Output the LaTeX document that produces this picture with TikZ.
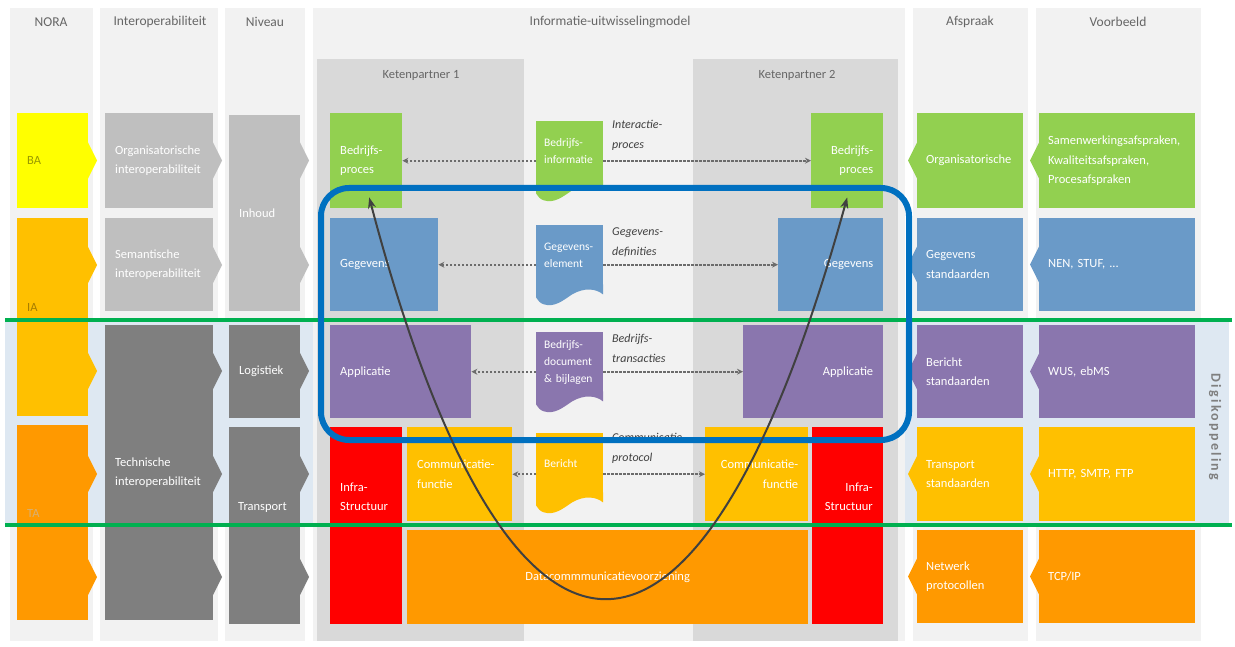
\documentclass[tikz,border=0pt]{standalone}
\usepackage{fontspec}
\setmainfont{Carlito}
\usetikzlibrary{arrows.meta,positioning}

\definecolor{kolom}{HTML}{F2F2F2}
\definecolor{keten}{HTML}{D9D9D9}
\definecolor{band}{HTML}{DEE8F2}
\definecolor{geelBA}{HTML}{FFFF00}
\definecolor{oranjeIA}{HTML}{FFC000}
\definecolor{oranjeTA}{HTML}{FF9900}
\definecolor{lichtgrijs}{HTML}{BFBFBF}
\definecolor{donkergrijs}{HTML}{7F7F7F}
\definecolor{groen}{HTML}{92D050}
\definecolor{blauw}{HTML}{6A9AC8}
\definecolor{paars}{HTML}{8A76AE}
\definecolor{rood}{HTML}{FF0000}
\definecolor{lijngroen}{HTML}{00B050}
\definecolor{kader}{HTML}{0070C0}
\definecolor{kopgrijs}{HTML}{666666}
\definecolor{pijlgrijs}{HTML}{404040}

\begin{document}
\begin{tikzpicture}[x=1pt,y=-1pt,line join=round,
  kop/.style={text=kopgrijs,font=\fontsize{13.5}{16}\selectfont},
  ketenkop/.style={text=kopgrijs,font=\fontsize{12.5}{15}\selectfont},
  blok/.style={rectangle,anchor=north west,inner xsep=10pt,inner ysep=0pt,text=white,align=left,font=\fontsize{12.5}{19.5}\selectfont},
  etiket/.style={anchor=west,inner sep=0pt,text=white,align=left,font=\fontsize{12.5}{19.5}\selectfont},
  doc/.style={rectangle,anchor=north west,minimum width=67pt,minimum height=60pt,inner xsep=8pt,inner ysep=0pt,text width=51pt,text=white,align=left,font=\fontsize{11.5}{17}\selectfont},
  cursief/.style={anchor=west,inner sep=0pt,text=pijlgrijs,align=left,font=\fontsize{12}{20}\selectfont\itshape},
  stippel/.style={draw=donkergrijs!85!black,line width=2pt,dash pattern=on 2.2pt off 1.8pt,-{Stealth[length=6pt,width=6pt]}},
  pijl/.style={draw=pijlgrijs,line width=2pt,{Stealth[length=11pt,width=8pt]}-{Stealth[length=11pt,width=8pt]}}]

  % achtergrond
  \fill[white] (0,0) rectangle (1235,647);
  \useasboundingbox (0,0) rectangle (1235,647);
  \foreach \a/\b in {10/93,100/218,225/305,913/1028,1036/1201}
    \fill[kolom] (\a,8) rectangle (\b,641);
  \fill[band] (5,320) rectangle (1229,525);
  \fill[kolom] (313,8) rectangle (905,641);
  \fill[keten] (317,59) rectangle (524,641);
  \fill[keten] (693,59) rectangle (898,641);

  % koppen
  \node[kop] (hNORA) at (51,22) {NORA};
  \node[kop] (hInterop) at (160,22) {Interoperabiliteit};
  \node[kop] (hNiveau) at (265,22) {Niveau};
  \node[kop] (hModel) at (610,22) {Informatie-uitwisselingmodel};
  \node[kop] (hAfspraak) at (970,22) {Afspraak};
  \node[kop] (hVoorbeeld) at (1118,22) {Voorbeeld};
  \node[ketenkop] (hKP1) at (421,75) {Ketenpartner 1};
  \node[ketenkop] (hKP2) at (797,75) {Ketenpartner 2};

  % uitsteeksels naar rechts en naar links
  \foreach \x/\y/\c in {88/160.5/geelBA,88/265/oranjeIA,88/371/oranjeIA,88/474/oranjeTA,88/577/oranjeTA,
      213/160.5/lichtgrijs,213/265/lichtgrijs,213/371/donkergrijs,213/474/donkergrijs,213/577/donkergrijs,
      300/160.5/lichtgrijs,300/265/lichtgrijs,300/371/donkergrijs,300/474/donkergrijs,300/577/donkergrijs}
    \fill[\c] (\x-1,\y-20) -- (\x+9,\y) -- (\x-1,\y+20) -- cycle;
  \foreach \x/\y/\c in {917/160.5/groen,917/264.5/blauw,917/371.5/paars,917/474/oranjeIA,917/576.5/oranjeTA,
      1039/160.5/groen,1039/264.5/blauw,1039/371.5/paars,1039/474/oranjeIA,1039/576.5/oranjeTA}
    \fill[\c] (\x+1,\y-20) -- (\x-9,\y) -- (\x+1,\y+20) -- cycle;

  % NORA
  \node[blok,fill=geelBA,minimum width=71pt,minimum height=95pt,text width=51pt,text=black!40!geelBA] (BA) at (17,113) {BA};
  \node[blok,fill=oranjeIA,minimum width=71pt,minimum height=198pt] (IA) at (17,218) {};
  \node[blok,fill=oranjeTA,minimum width=71pt,minimum height=195pt] (TA) at (17,425) {};
  \node[etiket,text=black!35!oranjeIA] (lIA) at (27,307) {IA};
  \node[etiket,text=lichtgrijs!60!oranjeTA] (lTA) at (27,513) {TA};

  % Interoperabiliteit
  \node[blok,fill=lichtgrijs,minimum width=108pt,minimum height=95pt,text width=88pt] (org) at (105,113) {Organisatorische\\interoperabiliteit};
  \node[blok,fill=lichtgrijs,minimum width=108pt,minimum height=93pt,text width=88pt] (sem) at (105,218) {Semantische\\interoperabiliteit};
  \node[blok,fill=donkergrijs,minimum width=108pt,minimum height=295pt,text width=88pt] (tech) at (105,325) {Technische\\interoperabiliteit};

  % Niveau
  \node[blok,fill=lichtgrijs,minimum width=71pt,minimum height=196pt,text width=51pt] (inhoud) at (229,115) {Inhoud};
  \node[blok,fill=donkergrijs,minimum width=71pt,minimum height=93pt,text width=51pt] (logistiek) at (229,325) {Logistiek};
  \node[blok,fill=donkergrijs,minimum width=71pt,minimum height=197pt] (transport) at (229,427) {};
  \node[etiket] (lTransport) at (238,507) {Transport};

  % Ketenpartner 1
  \node[blok,fill=groen,minimum width=72pt,minimum height=95pt,text width=52pt] (bp1) at (330,113) {Bedrijfs-\\proces};
  \node[blok,fill=blauw,minimum width=108pt,minimum height=93pt,text width=88pt] (geg1) at (330,218) {Gegevens};
  \node[blok,fill=paars,minimum width=141pt,minimum height=93pt,text width=121pt] (app1) at (330,325) {Applicatie};
  \node[blok,fill=rood,minimum width=72pt,minimum height=197pt] (infra1) at (330,427) {};
  \node[etiket] (lInfra1) at (340,497) {Infra-\\Structuur};
  \node[blok,fill=oranjeIA,minimum width=105pt,minimum height=94pt,text width=85pt] (comf1) at (407,427) {Communicatie-\\functie};
  \node[blok,fill=oranjeTA,minimum width=401pt,minimum height=94pt,text width=381pt,align=center] (data) at (407,530) {Datacommmunicatievoorziening};

  % Ketenpartner 2
  \node[blok,fill=groen,minimum width=72pt,minimum height=95pt,text width=52pt,align=right] (bp2) at (811,113) {Bedrijfs-\\proces};
  \node[blok,fill=blauw,minimum width=105pt,minimum height=93pt,text width=85pt,align=right] (geg2) at (778,218) {Gegevens};
  \node[blok,fill=paars,minimum width=140pt,minimum height=93pt,text width=120pt,align=right] (app2) at (743,325) {Applicatie};
  \node[blok,fill=oranjeIA,minimum width=103pt,minimum height=94pt,text width=83pt,align=right] (comf2) at (705,427) {Communicatie-\\functie};
  \node[blok,fill=rood,minimum width=71pt,minimum height=197pt] (infra2) at (812,427) {};
  \node[etiket,anchor=east,align=right] (lInfra2) at (873,497) {Infra-\\Structuur};

  % documenten in het midden
  \node[doc,fill=groen] (binfo) at (536,121) {Bedrijfs-\\informatie};
  \node[doc,fill=blauw] (gelem) at (536,225) {Gegevens-\\element};
  \node[doc,fill=paars] (bdoc) at (536,332) {Bedrijfs-\\document\\\& bijlagen};
  \node[doc,fill=oranjeIA] (bericht) at (536,433) {Bericht};
  \foreach \d/\c in {binfo/groen,gelem/blauw,bdoc/paars,bericht/oranjeIA}
    \fill[\c,shift={(\d.south west)}] (0,-1) -- (67,-1) -- (67,9)
      .. controls (60,3) and (48,2) .. (36,9)
      .. controls (26,16) and (18,22) .. (8,19)
      .. controls (4,18) and (2,15) .. (0,12) -- cycle;

  \node[cursief] (lInteractie) at (612,135) {Interactie-\\proces};
  \node[cursief] (lDefinities) at (612,242) {Gegevens-\\definities};
  \node[cursief] (lTransacties) at (612,348) {Bedrijfs-\\transacties};
  \node[cursief] (lProtocol) at (612,448) {Communicatie-\\protocol};

  % stippelpijlen
  \draw[stippel] (binfo.west |- bp1.east) -- (bp1.east);
  \draw[stippel] (binfo.east |- bp2.west) -- (bp2.west);
  \draw[stippel] (gelem.west |- geg1.east) -- (geg1.east);
  \draw[stippel] (gelem.east |- geg2.west) -- (geg2.west);
  \draw[stippel] (bdoc.west |- app1.east) -- (app1.east);
  \draw[stippel] (bdoc.east |- app2.west) -- (app2.west);
  \draw[stippel] (bericht.west |- comf1.east) -- (comf1.east);
  \draw[stippel] (bericht.east |- comf2.west) -- (comf2.west);

  % Afspraak
  \node[blok,inner xsep=9pt,fill=groen,minimum width=106pt,minimum height=95pt,text width=88pt] (aOrg) at (917,113) {Organisatorische};
  \node[blok,inner xsep=9pt,fill=blauw,minimum width=106pt,minimum height=93pt,text width=88pt] (aGeg) at (917,218) {Gegevens\\standaarden};
  \node[blok,inner xsep=9pt,fill=paars,minimum width=106pt,minimum height=93pt,text width=88pt] (aBer) at (917,325) {Bericht\\standaarden};
  \node[blok,inner xsep=9pt,fill=oranjeIA,minimum width=106pt,minimum height=94pt,text width=88pt] (aTra) at (917,427) {Transport\\standaarden};
  \node[blok,inner xsep=9pt,fill=oranjeTA,minimum width=106pt,minimum height=93pt,text width=88pt] (aNet) at (917,530) {Netwerk\\protocollen};

  % Voorbeeld
  \node[blok,inner xsep=9pt,fill=groen,minimum width=156pt,minimum height=95pt,text width=138pt] (vOrg) at (1039,113) {Samenwerkingsafspraken,\\Kwaliteitsafspraken,\\Procesafspraken};
  \node[blok,inner xsep=9pt,fill=blauw,minimum width=156pt,minimum height=93pt,text width=138pt] (vGeg) at (1039,218) {NEN, STUF, ...};
  \node[blok,inner xsep=9pt,fill=paars,minimum width=156pt,minimum height=93pt,text width=138pt] (vBer) at (1039,325) {WUS, ebMS};
  \node[blok,inner xsep=9pt,fill=oranjeIA,minimum width=156pt,minimum height=94pt,text width=138pt] (vTra) at (1039,427) {HTTP, SMTP, FTP};
  \node[blok,inner xsep=9pt,fill=oranjeTA,minimum width=156pt,minimum height=93pt,text width=138pt] (vNet) at (1039,530) {TCP/IP};

  \node[rotate=-90,text=donkergrijs,font=\fontsize{14}{16}\selectfont\bfseries\addfontfeatures{LetterSpace=16}] (digi) at (1215,427) {Digikoppeling};

  % groene scheidingslijnen
  \draw[lijngroen,line width=3.5pt] (5,320) -- (1232,320);
  \draw[lijngroen,line width=3.5pt] (5,525) -- (1232,525);

  % blauw kader en boog
  \draw[kader,line width=6pt,rounded corners=28pt] (321,188) rectangle (909,440);
  \draw[pijl] ([xshift=3pt,yshift=11pt]bp1.south) .. controls (510,731) and (700,731) .. ([yshift=11pt]bp2.south);
\end{tikzpicture}
\end{document}
